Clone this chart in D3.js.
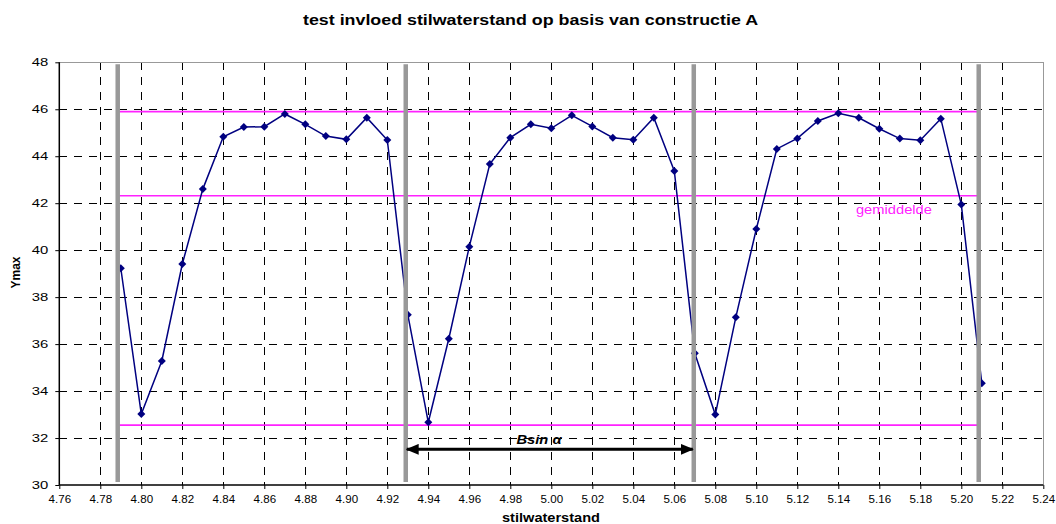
<!DOCTYPE html>
<html>
<head>
<meta charset="utf-8">
<script src="https://cdn.jsdelivr.net/npm/d3@7"></script>
<style>
  body { margin: 0; background: #fff; }
  svg { display: block; font-family: Arial, "Liberation Sans", sans-serif; }
</style>
</head>
<body>
<svg id="chart" width="1056" height="524"></svg>
<script>
// Still-water level (m) and the resulting Ymax per run
const stilwaterstand = [
  4.79, 4.80, 4.81, 4.82, 4.83, 4.84, 4.85, 4.86, 4.87, 4.88, 4.89,
  4.90, 4.91, 4.92, 4.93, 4.94, 4.95, 4.96, 4.97, 4.98, 4.99, 5.00,
  5.01, 5.02, 5.03, 5.04, 5.05, 5.06, 5.07, 5.08, 5.09, 5.10, 5.11,
  5.12, 5.13, 5.14, 5.15, 5.16, 5.17, 5.18, 5.19, 5.20, 5.21
];
const ymax = [
  39.23, 33.02, 35.28, 39.41, 42.60, 44.83, 45.24, 45.26, 45.80, 45.36, 44.86,
  44.72, 45.64, 44.69, 37.25, 32.67, 36.23, 40.15, 43.67, 44.79, 45.36, 45.19,
  45.74, 45.27, 44.79, 44.70, 45.64, 43.37, 35.61, 33.00, 37.14, 40.90, 44.31,
  44.76, 45.50, 45.83, 45.64, 45.17, 44.75, 44.68, 45.60, 41.94, 34.33
];

// Axis ticks
const xTickValues = [4.76, 4.78, 4.80, 4.82, 4.84, 4.86, 4.88, 4.90, 4.92, 4.94, 4.96, 4.98, 5.00,
                     5.02, 5.04, 5.06, 5.08, 5.10, 5.12, 5.14, 5.16, 5.18, 5.20, 5.22, 5.24];
const yTickValues = [30, 32, 34, 36, 38, 40, 42, 44, 46, 48];

// Period boundaries (grey bars) and reference levels (maximum, mean, minimum)
const periodGrenzen = [4.7885, 4.929, 5.0695, 5.2085];
const niveaus = [45.90, 42.32, 32.55];
const gemiddelde = 42.32;

// Bsin α span between the 2nd and 3rd boundary
const bsinVan = 4.929, bsinTot = 5.0695, bsinNiveau = 31.52;

const svg = d3.select("#chart");
const x = d3.scaleLinear().domain([4.76, 5.24]).range([59.3, 1043.3]);
const y = d3.scaleLinear().domain([30, 48]).range([485, 62.3]);

// dashed grid
const grid = svg.append("g");
grid.selectAll("line.v")
  .data(xTickValues.slice(1, -1))
  .join("line")
  .attr("x1", d => x(d)).attr("x2", d => x(d))
  .attr("y1", y(48)).attr("y2", y(30))
  .attr("stroke", "#000").attr("stroke-width", 1)
  .attr("stroke-dasharray", "8,7")
  .attr("shape-rendering", "crispEdges");
grid.selectAll("line.h")
  .data(yTickValues.slice(1, -1))
  .join("line")
  .attr("x1", x(4.76)).attr("x2", x(5.24))
  .attr("y1", d => y(d)).attr("y2", d => y(d))
  .attr("stroke", "#000").attr("stroke-width", 1)
  .attr("stroke-dasharray", "8,7")
  .attr("shape-rendering", "crispEdges");

// grey frame on top and right
svg.append("path")
  .attr("d", `M${x(4.76)},${y(48)}H${x(5.24)}V${y(30)}`)
  .attr("fill", "none").attr("stroke", "#999").attr("stroke-width", 1.2)
  .attr("shape-rendering", "crispEdges");

// reference levels
svg.append("g").selectAll("line")
  .data(niveaus)
  .join("line")
  .attr("x1", x(periodGrenzen[0])).attr("x2", x(periodGrenzen[periodGrenzen.length - 1]))
  .attr("y1", d => y(d)).attr("y2", d => y(d))
  .attr("stroke", "#ff22ff").attr("stroke-width", 1.6);

svg.append("text")
  .attr("x", x(5.1486)).attr("y", y(gemiddelde) + 18.5)
  .attr("font-size", 12).attr("fill", "#ff22ff")
  .attr("textLength", 76).attr("lengthAdjust", "spacingAndGlyphs")
  .text("gemiddelde");

// data series
const punten = stilwaterstand.map((s, i) => [s, ymax[i]]);
svg.append("path")
  .datum(punten)
  .attr("d", d3.line().x(d => x(d[0])).y(d => y(d[1])))
  .attr("fill", "none").attr("stroke", "#000080").attr("stroke-width", 1.5);
svg.append("g").selectAll("path")
  .data(punten)
  .join("path")
  .attr("transform", d => `translate(${x(d[0])},${y(d[1])})`)
  .attr("d", "M0,-4L4,0L0,4L-4,0Z")
  .attr("fill", "#000080");

// period boundaries
svg.append("g").selectAll("line")
  .data(periodGrenzen)
  .join("line")
  .attr("x1", d => x(d)).attr("x2", d => x(d))
  .attr("y1", y(48) + 2).attr("y2", y(30) - 3)
  .attr("stroke", "#999").attr("stroke-width", 4.5);

// axes
const xAxis = svg.append("g")
  .attr("transform", `translate(0,${y(30)})`)
  .call(d3.axisBottom(x).tickValues(xTickValues).tickFormat(d3.format(".2f"))
        .tickSize(4).tickPadding(6.5));
const yAxis = svg.append("g")
  .attr("transform", `translate(${x(4.76)},0)`)
  .call(d3.axisLeft(y).tickValues(yTickValues).tickFormat(d3.format("d"))
        .tickSize(4).tickPadding(7));
[xAxis, yAxis].forEach(a => {
  a.select(".domain").attr("stroke", "#000").attr("stroke-width", 1.5);
  a.selectAll(".tick line").attr("stroke", "#000");
  a.selectAll(".tick text").attr("fill", "#000").attr("font-family", "Arial, 'Liberation Sans', sans-serif");
});
yAxis.select(".domain").attr("d", `M0,${y(48)}V${y(30)}`);
xAxis.select(".domain").attr("d", `M${x(4.76)},0H${x(5.24)}`);
xAxis.selectAll(".tick text").attr("font-size", 10)
  .attr("textLength", 22.5).attr("lengthAdjust", "spacingAndGlyphs");
yAxis.selectAll(".tick text").attr("font-size", 11)
  .attr("textLength", 16.5).attr("lengthAdjust", "spacingAndGlyphs");

// Bsin α arrow
const defs = svg.append("defs");
["pijlEind", "pijlBegin"].forEach((id, i) => {
  defs.append("marker")
    .attr("id", id)
    .attr("viewBox", "0 -5 12 10")
    .attr("refX", 11).attr("refY", 0)
    .attr("markerUnits", "userSpaceOnUse")
    .attr("markerWidth", 13).attr("markerHeight", 11)
    .attr("orient", i === 0 ? "auto" : "auto-start-reverse")
    .append("path").attr("d", "M0,-5L12,0L0,5Z").attr("fill", "#000");
});
svg.append("line")
  .attr("x1", x(bsinVan) + 1).attr("x2", x(bsinTot) - 1)
  .attr("y1", y(bsinNiveau)).attr("y2", y(bsinNiveau))
  .attr("stroke", "#000").attr("stroke-width", 3)
  .attr("marker-start", "url(#pijlBegin)")
  .attr("marker-end", "url(#pijlEind)");
svg.append("text")
  .attr("x", x(4.994)).attr("y", y(bsinNiveau) - 5.3)
  .attr("text-anchor", "middle")
  .attr("font-size", 12).attr("font-weight", "bold").attr("font-style", "italic")
  .attr("textLength", 45).attr("lengthAdjust", "spacingAndGlyphs")
  .text("Bsin α");

// titles
svg.append("text")
  .attr("x", 530.5).attr("y", 25)
  .attr("text-anchor", "middle")
  .attr("font-size", 15).attr("font-weight", "bold")
  .attr("textLength", 455).attr("lengthAdjust", "spacingAndGlyphs")
  .text("test invloed stilwaterstand op basis van constructie A");
svg.append("text")
  .attr("x", 551).attr("y", 521.5)
  .attr("text-anchor", "middle")
  .attr("font-size", 12.5).attr("font-weight", "bold")
  .attr("textLength", 98).attr("lengthAdjust", "spacingAndGlyphs")
  .text("stilwaterstand");
svg.append("text")
  .attr("transform", "translate(19.5,272.5) rotate(-90)")
  .attr("text-anchor", "middle")
  .attr("font-size", 12).attr("font-weight", "bold")
  .text("Ymax");
</script>
</body>
</html>
